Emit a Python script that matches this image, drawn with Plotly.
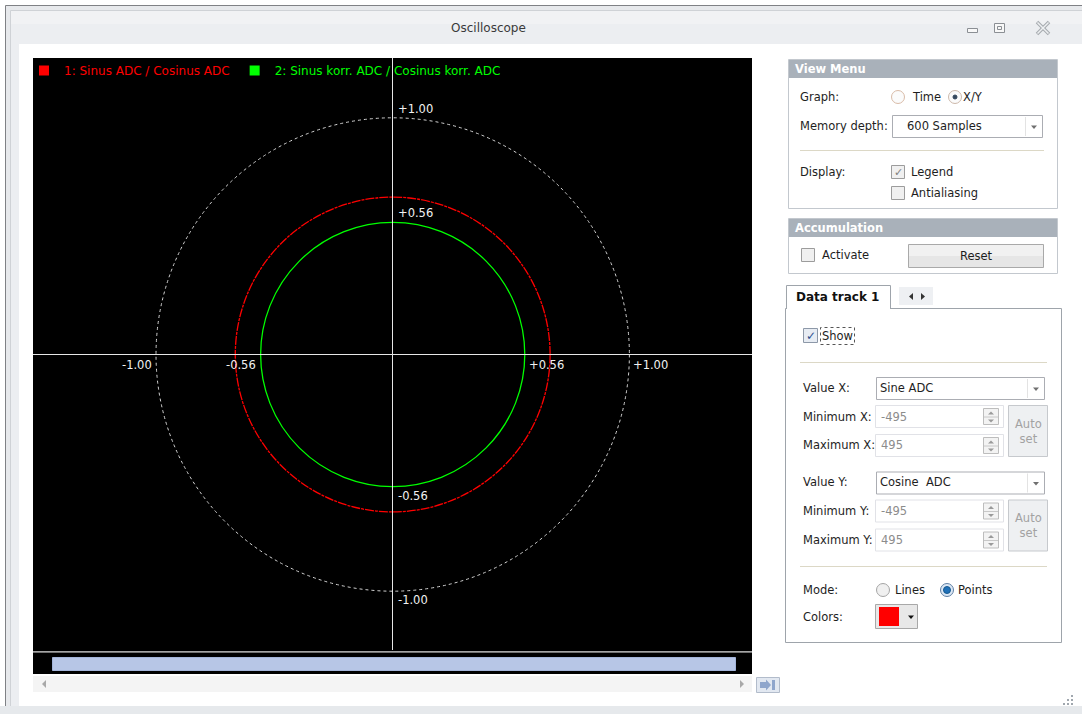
import plotly.graph_objects as go

# ---------------- chart data ----------------
series_names = ["1: Sinus ADC / Cosinus ADC", "2: Sinus korr. ADC / Cosinus korr. ADC"]
series_colors = ["#ff0000", "#00ff00"]
series_radius = [0.665, 0.558]          # radius of each X/Y trace (normalised units)
series_dash = ["9px,1px,3px,1px", "solid"]
reference_radius = 1.0                   # dashed unit circle
x_tick_vals = [-1.0, -0.56, 0.56, 1.0]
x_tick_text = ["-1.00", "-0.56", "+0.56", "+1.00"]
y_tick_vals = [1.0, 0.56, -0.56, -1.0]
y_tick_text = ["+1.00", "+0.56", "-0.56", "-1.00"]
x_range = [-1.5197, 1.518]
y_range = [-1.2484, 1.2526]

# ---------------- geometry helpers (pixel -> paper) ----------------
W, H = 1082, 714
L, R, T, B = 33, 752, 58, 650
FONT = "DejaVu Sans"


def X(px):
    return (px - L) / (R - L)


def Y(py):
    return (B - py) / (B - T)


shapes = []
annotations = []


def rect(x0, y0, x1, y1, fill=None, line=None, lw=1, dash="solid"):
    shapes.append(dict(type="rect", xref="paper", yref="paper", layer="below",
                       x0=X(x0), x1=X(x1), y0=Y(y1), y1=Y(y0),
                       fillcolor=fill if fill else "rgba(0,0,0,0)",
                       line=dict(color=line if line else "rgba(0,0,0,0)",
                                 width=lw if line else 0, dash=dash)))


def seg(x0, y0, x1, y1, color, lw=1):
    shapes.append(dict(type="line", xref="paper", yref="paper", layer="below",
                       x0=X(x0), x1=X(x1), y0=Y(y0), y1=Y(y1),
                       line=dict(color=color, width=lw)))


def circ(cx, cy, r, fill, line, lw=1):
    shapes.append(dict(type="circle", xref="paper", yref="paper", layer="below",
                       x0=X(cx - r), x1=X(cx + r), y0=Y(cy + r), y1=Y(cy - r),
                       fillcolor=fill, line=dict(color=line, width=lw)))


def poly(pts, fill, line=None, close=True):
    d = "M " + " L ".join(f"{X(a):.6f},{Y(b):.6f}" for a, b in pts) + (" Z" if close else "")
    shapes.append(dict(type="path", xref="paper", yref="paper", layer="below", path=d,
                       fillcolor=fill if fill else "rgba(0,0,0,0)",
                       line=dict(color=line if line else "rgba(0,0,0,0)", width=1 if line else 0)))


def txt(x, y, s, size=11.5, color="#1e1e1e", anchor="left"):
    annotations.append(dict(x=X(x), y=Y(y), xref="paper", yref="paper", text=s,
                            showarrow=False, xanchor=anchor, yanchor="middle",
                            font=dict(family=FONT, size=size, color=color)))


def tri_down(cx, cy, c, s=3):
    poly([(cx - s, cy - s / 2), (cx + s, cy - s / 2), (cx, cy + s / 2 + 0.5)], c)


# ---------------- window frame ----------------
rect(5.5, 5.5, 1090, 720, "#e7e9ec", "#7f8185")
rect(10.5, 10.5, 1090, 720, "#eceef1", "#cfd2d6")
rect(11, 11, 1090, 24, "#f1f2f4")
rect(19, 44, 1090, 706, "#ffffff")
rect(0, 706, 1090, 720, "#e6e9ec")
txt(488, 28, "Oscilloscope", size=12, color="#3a3a3a", anchor="center")
# caption buttons
rect(967.5, 28.5, 977.5, 32.5, "#f8f8f8", "#8b8f94")
rect(994.5, 23.5, 1004.5, 32.5, "#f8f8f8", "#8b8f94")
rect(997.5, 26.5, 1001.5, 29.5, None, "#8b8f94")
seg(1037, 22, 1049, 34, "#a6aaaf", 3.5)
seg(1049, 22, 1037, 34, "#a6aaaf", 3.5)
seg(1037.5, 22.5, 1048.5, 33.5, "#eef0f2", 1.5)
seg(1048.5, 22.5, 1037.5, 33.5, "#eef0f2", 1.5)

# ---------------- plot area + scroller ----------------
rect(L, T, R, B, "#000000")
rect(L, 650, R, 651.5, "#000000")
rect(L, 651.5, R, 652.5, "#c9c9c9")
rect(L, 652.5, R, 674, "#000000")
rect(52.5, 657.5, 735.5, 670.5, "#b7c6e6", "#a3b4d9")
rect(L, 676, R, 692, "#f4f4f4")
poly([(46, 680), (46, 688), (42, 684)], "#a8a8a8")
poly([(740, 680), (740, 688), (744, 684)], "#a8a8a8")
rect(756.5, 677.5, 779.5, 692.5, "#e2e8f1", "#b2bccb")
poly([(760, 682), (766, 682), (766, 679.5), (771, 685), (766, 690.5), (766, 688), (760, 688)], "#8fa6cc")
rect(772, 680, 775, 690, "#8fa6cc")

# resize grip
for gx, gy in [(1072, 696), (1068, 700), (1072, 700), (1064, 704), (1068, 704), (1072, 704)]:
    rect(gx - 1, gy - 1, gx + 1, gy + 1, "#a0a7ae")

# ---------------- View Menu ----------------
rect(788.5, 59.5, 1057.5, 208.5, "#ffffff", "#c3c8ce")
rect(789, 60, 1057, 78, "#a9b1ba")
txt(793, 69, "<b>View Menu</b>", color="#ffffff")
txt(798, 97, "Graph:")
circ(898, 97, 6.5, "#fbfbfb", "#d9bba7")
txt(910, 97, "Time")
circ(955, 97, 6.5, "#fbfbfb", "#cdb9ab")
circ(955, 97, 2, "#34485e", "#34485e")
txt(961, 97, "X/Y")
txt(798, 126, "Memory depth:")
rect(892.5, 115.5, 1042.5, 137.5, "#ffffff", "#abadb3")
seg(1025.5, 117, 1025.5, 136, "#e3e3e3")
txt(905, 126, "600 Samples")
tri_down(1034, 127, "#707070")
seg(800, 150.5, 1044, 150.5, "#dcd8c6")
txt(798, 172, "Display:")
rect(891.5, 165.5, 904.5, 178.5, "#f0f0f0", "#9c9c9c")
txt(898, 172, "✓", size=11, color="#808080", anchor="center")
txt(909, 172, "Legend")
rect(891.5, 186.5, 904.5, 199.5, "#f0f0f0", "#9c9c9c")
txt(909, 193, "Antialiasing")

# ---------------- Accumulation ----------------
rect(788.5, 218.5, 1057.5, 273.5, "#ffffff", "#c3c8ce")
rect(789, 219, 1057, 237, "#a9b1ba")
txt(793, 228, "<b>Accumulation</b>", color="#ffffff")
rect(801.5, 248.5, 814.5, 261.5, "#f0f0f0", "#9c9c9c")
txt(820, 255, "Activate")
rect(908.5, 244.5, 1043.5, 267.5, "#e6e6e6", "#a9a9a9")
rect(909, 245, 1043, 256, "#f1f1f1")
txt(976, 256, "Reset", anchor="center")

# ---------------- Data track tab ----------------
rect(785.5, 308.5, 1061.5, 642.5, "#ffffff", "#9ea4ab")
rect(787, 286, 890, 310, "#ffffff")
poly([(786.5, 309), (786.5, 285.5), (890.5, 285.5), (890.5, 309)], None, "#9ea4ab", close=False)
txt(794, 297, "<b>Data track 1</b>", size=12, color="#111111")
rect(899, 287, 933, 305, "#eef0f3")
poly([(913, 293), (913, 300), (909, 296.5)], "#333333")
poly([(921, 293), (921, 300), (925, 296.5)], "#333333")
rect(803.5, 328.5, 817.5, 342.5, "#e7ecf3", "#8d98a8")
txt(810.5, 335.5, "✓", size=12, color="#2c4e8e", anchor="center")
rect(820.5, 327.5, 854.5, 344.5, None, "#555555", dash="dot")
txt(820, 336, "Show")
seg(800, 362.5, 1047, 362.5, "#dcd8c6")


def value_block(y_combo, label_v, combo_text, label_min, label_max):
    yc = y_combo
    txt(801, yc, label_v)
    rect(876.5, yc - 10.5, 1044.5, yc + 11.5, "#ffffff", "#abadb3")
    seg(1027.5, yc - 9, 1027.5, yc + 10, "#e3e3e3")
    txt(878, yc, combo_text)
    tri_down(1036, yc + 1, "#707070")
    for k, (lab, val) in enumerate([(label_min, "-495"), (label_max, "495")]):
        yy = yc + 28.5 + k * 29
        txt(801, yy, lab)
        rect(875.5, yy - 11, 1003.5, yy + 11, "#ffffff", "#e1e2e7")
        txt(879, yy, val, color="#8c8c8c")
        rect(983.5, yy - 8, 998.5, yy + 8, "#f3f3f3", "#bdbdbd")
        seg(984, yy + 0.5, 998, yy + 0.5, "#c8c8c8")
        poly([(988, yy - 2), (994, yy - 2), (991, yy - 5)], "#9a9a9a")
        poly([(988, yy + 3), (994, yy + 3), (991, yy + 6)], "#9a9a9a")
    rect(1008.5, yc + 17.5, 1047.5, yc + 68.5, "#eef0f2", "#c6c9cd")
    txt(1028, yc + 43, "Auto<br>set", color="#a2a2a2", anchor="center")


value_block(388, "Value X:", "Sine ADC", "Minimum X:", "Maximum X:")
value_block(482.5, "Value Y:", "Cosine\u00a0 ADC", "Minimum Y:", "Maximum Y:")
seg(800, 566.5, 1047, 566.5, "#dcd8c6")
txt(801, 590, "Mode:")
circ(883, 590, 6.5, "#f0f0f0", "#a5a5a5")
txt(893, 590, "Lines")
circ(947, 590, 6.5, "#dbe7f4", "#5f7fa3")
circ(947, 590, 3.5, "#1f70b8", "#15588f")
txt(956, 590, "Points")
txt(801, 617, "Colors:")
rect(875.5, 604.5, 917.5, 628.5, "#e8e8e8", "#a8a8a8")
rect(879, 607, 899, 626, "#ff0000")
tri_down(911, 617, "#111111")

# ---------------- X/Y traces (data coordinates) ----------------
shapes.append(dict(type="circle", xref="x", yref="y", layer="below",
                   x0=-reference_radius, x1=reference_radius,
                   y0=-reference_radius, y1=reference_radius,
                   line=dict(color="#d4d4d4", width=1, dash="3px,3px")))
for r, c, d in zip(series_radius, series_colors, series_dash):
    shapes.append(dict(type="circle", xref="x", yref="y", layer="below",
                       x0=-r, x1=r, y0=-r, y1=r,
                       line=dict(color=c, width=1.3, dash=d)))

# axis value labels at the crosshair
for v, t in zip(x_tick_vals, x_tick_text):
    annotations.append(dict(x=v, y=0, xref="x", yref="y", text=t, showarrow=False,
                            xanchor="left" if v > 0 else "right", yanchor="top",
                            xshift=2 if v > 0 else -2, yshift=-1,
                            font=dict(family=FONT, size=11.5, color="#f2f2f2")))
for v, t in zip(y_tick_vals, y_tick_text):
    annotations.append(dict(x=0, y=v, xref="x", yref="y", text=t, showarrow=False,
                            xanchor="left", yanchor="bottom" if v > 0 else "top",
                            xshift=3, yshift=0,
                            font=dict(family=FONT, size=11.5, color="#f2f2f2")))

fig = go.Figure()
for n, c in zip(series_names, series_colors):
    fig.add_trace(go.Scatter(x=[None], y=[None], mode="markers",
                             marker=dict(symbol="square", size=10, color=c),
                             name=f"<span style='color:{c}'>{n}</span>",
                             hoverinfo="skip"))

fig.update_layout(
    width=W, height=H, autosize=False,
    margin=dict(l=L, r=W - R, t=T, b=H - B, pad=0),
    paper_bgcolor="#ffffff", plot_bgcolor="#000000",
    xaxis=dict(range=x_range, showgrid=False, zeroline=True, zerolinecolor="#e6e6e6",
               zerolinewidth=1, showticklabels=False, ticks="", showline=False, fixedrange=True),
    yaxis=dict(range=y_range, showgrid=False, zeroline=True, zerolinecolor="#e6e6e6",
               zerolinewidth=1, showticklabels=False, ticks="", showline=False, fixedrange=True),
    showlegend=True,
    legend=dict(orientation="h", x=X(24), y=Y(56), xanchor="left", yanchor="top",
                bgcolor="rgba(0,0,0,0)", font=dict(family=FONT, size=12),
                itemclick=False, itemdoubleclick=False),
    shapes=shapes, annotations=annotations, hovermode=False,
)

fig.write_html("out.html", config={"displayModeBar": False})
